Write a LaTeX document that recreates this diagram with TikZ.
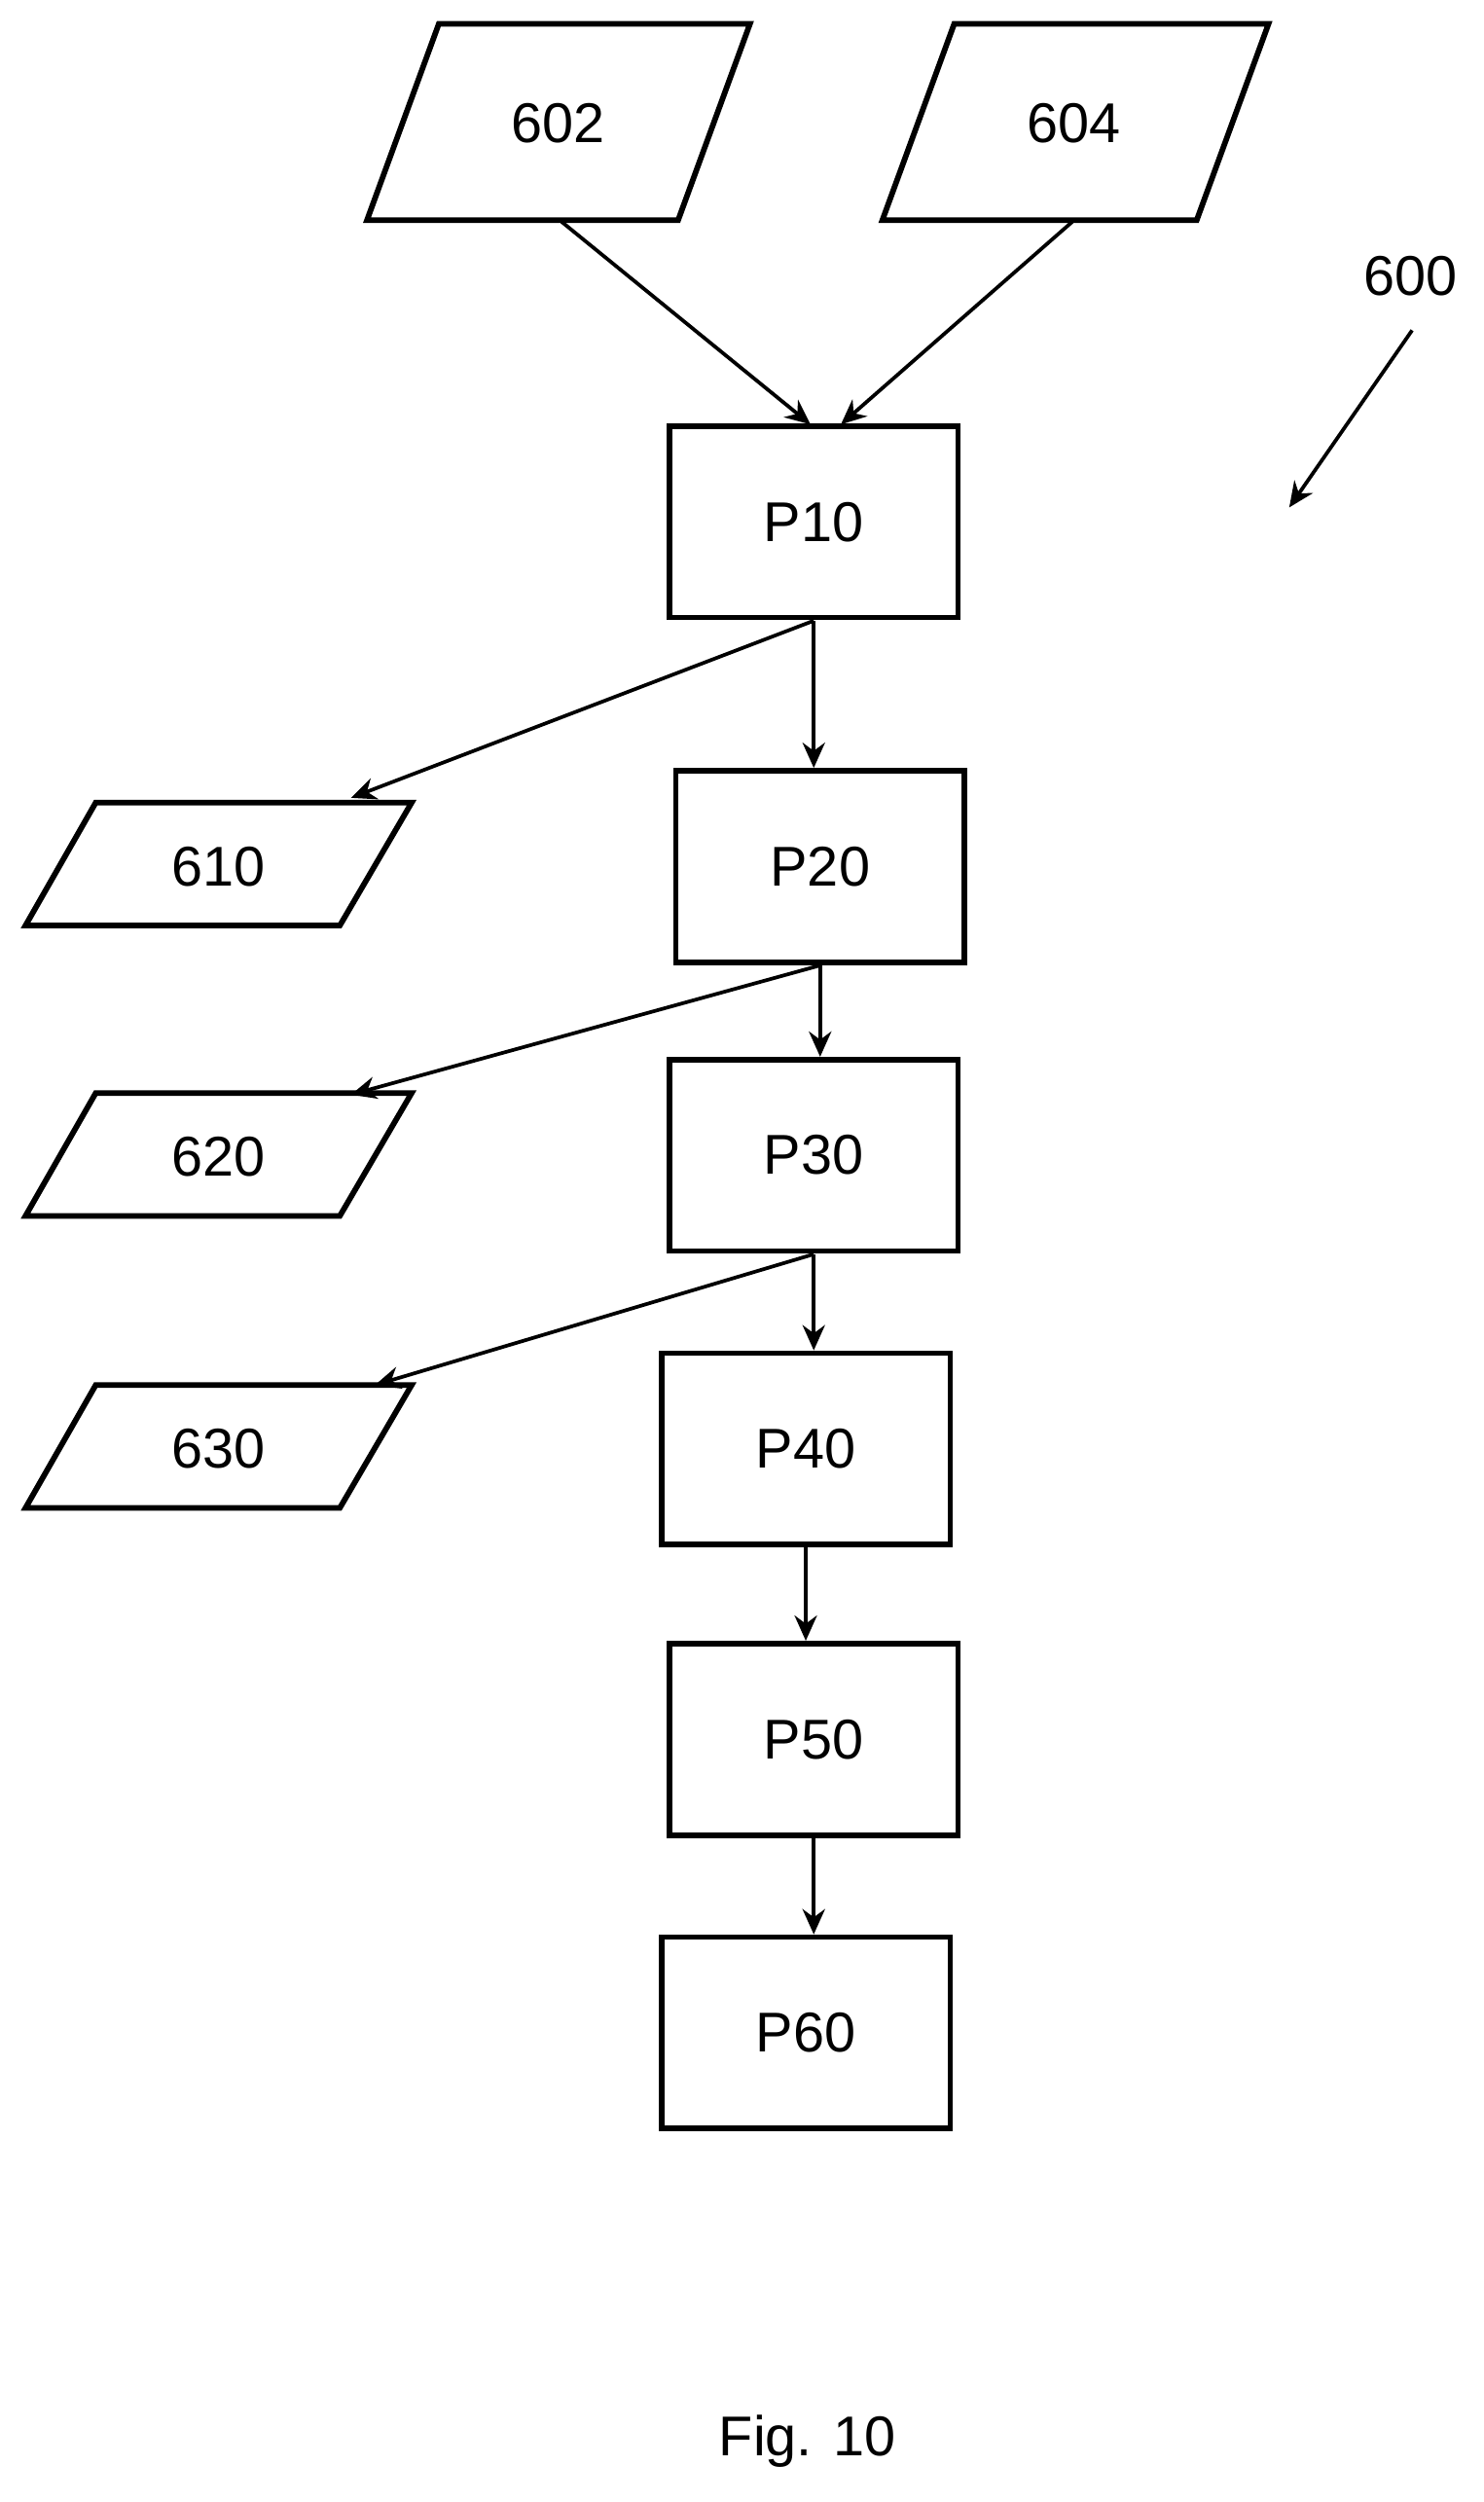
\documentclass[tikz,border=0pt]{standalone}
\usepackage{fontspec}
\setmainfont{Liberation Sans}
\usetikzlibrary{arrows.meta}
\begin{document}
\begin{tikzpicture}[x=0.02cm,y=-0.02cm,
  box/.style={draw,line width=2pt,minimum width=3.62cm,minimum height=2.4cm,inner sep=0pt,font=\fontsize{20}{24}\selectfont},
  lbl/.style={font=\fontsize{20}{24}\selectfont},
  para/.style={line width=2pt,line join=miter},
  arr/.style={line width=1.3pt,-{Stealth[length=9pt,width=8pt]}}]
\useasboundingbox (0,0) rectangle (930,1568);
% input parallelograms
\draw[para] (230,138) -- (275,15) -- (470,15) -- (425,138) -- cycle;
\node[lbl] (i602) at (350,77) {602};
\draw[para] (553,138) -- (598,15) -- (795,15) -- (750,138) -- cycle;
\node[lbl] (i604) at (673,77) {604};
% boxes
\node[box] (P10) at (510,327) {P10};
\node[box] (P20) at (514,543) {P20};
\node[box] (P30) at (510,724) {P30};
\node[box] (P40) at (505,908) {P40};
\node[box] (P50) at (510,1090) {P50};
\node[box] (P60) at (505,1274) {P60};
% outputs
\draw[para] (16,580) -- (60,503) -- (258,503) -- (213,580) -- cycle;
\node[lbl] (o610) at (137,543) {610};
\draw[para] (16,762) -- (60,685) -- (258,685) -- (213,762) -- cycle;
\node[lbl] (o620) at (137,725) {620};
\draw[para] (16,945) -- (60,868) -- (258,868) -- (213,945) -- cycle;
\node[lbl] (o630) at (137,908) {630};
% anchor coordinates
\coordinate (a602) at (352,139);
\coordinate (a604) at (672,139);
\coordinate (t10a) at (508,266);
\coordinate (t10b) at (527,266);
\coordinate (b10) at (510,389);
\coordinate (t610) at (220,500);
\coordinate (b20) at (514,605);
\coordinate (t620) at (220,686);
\coordinate (b30) at (510,786);
\coordinate (t630) at (235,868);
% arrows
\draw[arr] (a602) -- (t10a);
\draw[arr] (a604) -- (t10b);
\draw[arr] (b10) -- (t610);
\draw[arr] (b10) -- (P20.north -| b10);
\draw[arr] (b20) -- (t620);
\draw[arr] (b20) -- (P30.north -| b20);
\draw[arr] (b30) -- (t630);
\draw[arr] (b30) -- (P40.north -| b30);
\draw[arr] (P40.south) -- (P50.north -| P40.south);
\draw[arr] (P50.south) -- (P60.north -| P50.south);
% reference label
\node[lbl] (n600) at (884,173) {600};
\coordinate (s600) at (885,207);
\coordinate (e600) at (808,318);
\draw[arr] (s600) -- (e600);
\node[lbl] (fig) at (506,1530) {Fig. 10};
\end{tikzpicture}
\end{document}
